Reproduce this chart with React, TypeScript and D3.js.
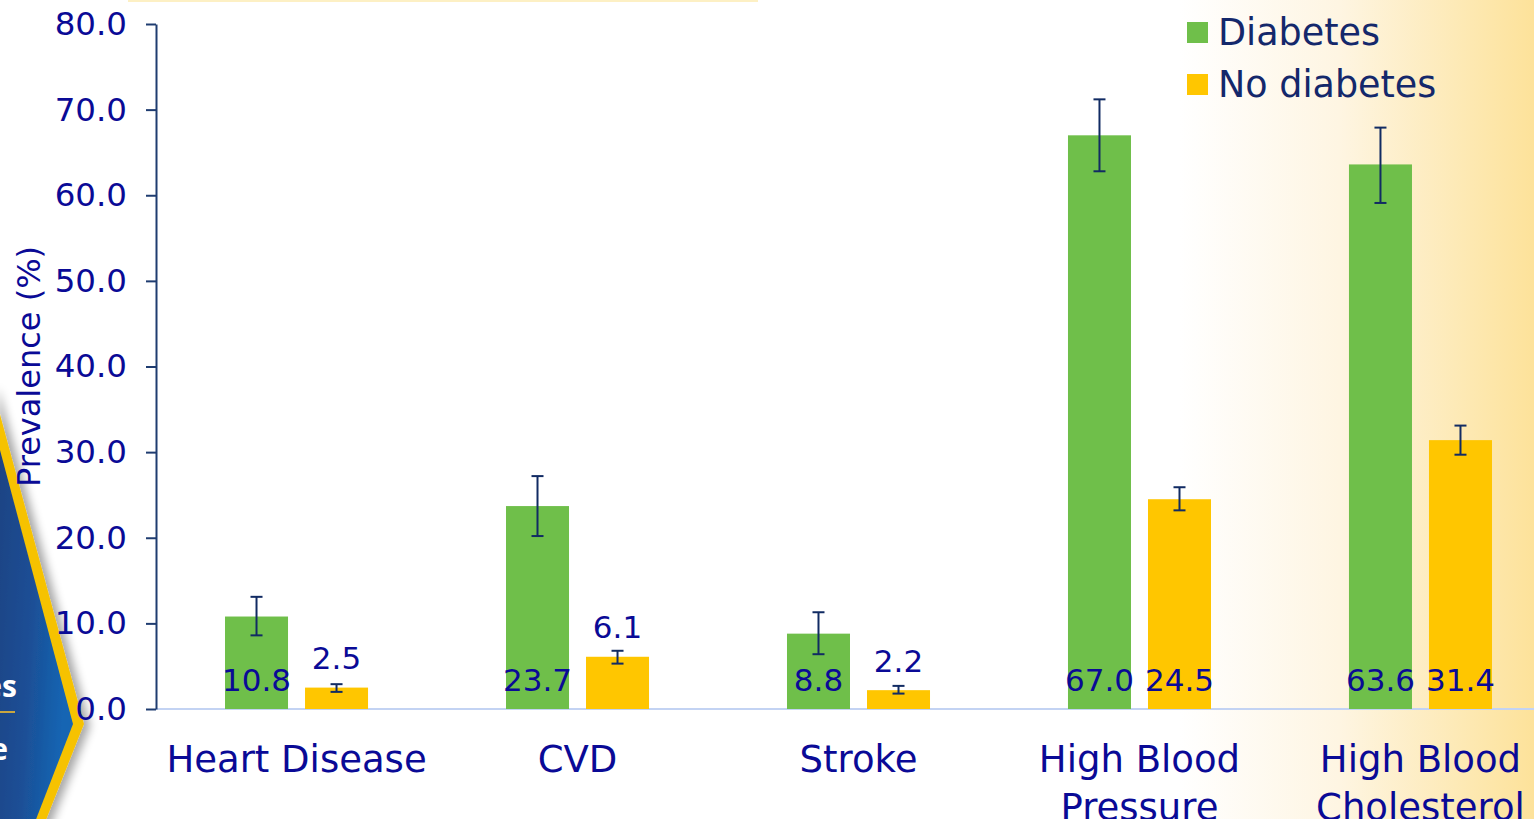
import { useEffect, useRef } from "react";
import * as d3 from "d3";

const CATEGORIES = ["Heart Disease", "CVD", "Stroke", "High Blood Pressure", "High Blood Cholesterol"];
const CATEGORY_LINES = [["Heart Disease"], ["CVD"], ["Stroke"], ["High Blood", "Pressure"], ["High Blood", "Cholesterol"]];
const SERIES = ["Diabetes", "No diabetes"];
const DIABETES = [10.8, 23.7, 8.8, 67.0, 63.6];
const DIABETES_LO = [8.6, 20.2, 6.4, 62.8, 59.1];
const DIABETES_HI = [13.1, 27.2, 11.3, 71.2, 67.9];
const NO_DIABETES = [2.5, 6.1, 2.2, 24.5, 31.4];
const NO_DIABETES_LO = [2.0, 5.3, 1.8, 23.2, 29.7];
const NO_DIABETES_HI = [2.9, 6.8, 2.7, 25.9, 33.1];
const Y_TICKS = [0, 10, 20, 30, 40, 50, 60, 70, 80];

const W = 1534;
const H = 819;
const PLOT = { left: 156, right: 1561, top: 24, bottom: 709 };
const COLORS: Record<string, string> = { Diabetes: "#6fbf4a", "No diabetes": "#ffc600" };
const LABEL = "#0a0a96";
const NAVY = "#112b63";
const FONT = "Verdana, 'DejaVu Sans', sans-serif";

export default function App() {
    const axisRef = useRef<SVGGElement>(null);

    const y = d3.scaleLinear().domain([0, 80]).range([PLOT.bottom, PLOT.top]);
    const x0 = d3
        .scaleBand<string>()
        .domain(CATEGORIES)
        .range([PLOT.left, PLOT.right])
        .paddingInner(0.491)
        .paddingOuter(0.2456);
    const x1 = d3.scaleBand<string>().domain(SERIES).range([0, x0.bandwidth()]).paddingInner(0.2125);

    const rows = CATEGORIES.flatMap((c, i) => [
        { cat: c, s: SERIES[0], v: DIABETES[i], lo: DIABETES_LO[i], hi: DIABETES_HI[i] },
        { cat: c, s: SERIES[1], v: NO_DIABETES[i], lo: NO_DIABETES_LO[i], hi: NO_DIABETES_HI[i] },
    ]);

    useEffect(() => {
        const g = d3.select(axisRef.current!);
        g.selectAll("*").remove();
        g.call(
            d3
                .axisLeft(y)
                .tickValues(Y_TICKS)
                .tickSize(10)
                .tickSizeOuter(0)
                .tickPadding(19)
                .tickFormat((d) => d3.format(".1f")(Number(d)))
        );
        g.selectAll(".domain").attr("stroke", "#1f3c70").attr("stroke-width", 2);
        g.selectAll(".tick line").attr("stroke", "#1f3c70").attr("stroke-width", 2);
        g.selectAll(".tick text")
            .attr("fill", LABEL)
            .style("font-size", "32.5px")
            .style("font-family", FONT);
    }, []);

    return (
        <svg width={W} height={H} style={{ position: "absolute", left: 0, top: 0 }}>
            <defs>
                <linearGradient id="bgRight" x1="0" x2="1" y1="0" y2="0">
                    <stop offset="0" stopColor="#ffffff" />
                    <stop offset="0.45" stopColor="#fef5e2" />
                    <stop offset="0.8" stopColor="#fde9b4" />
                    <stop offset="1" stopColor="#fde29a" />
                </linearGradient>
                <linearGradient id="hexBlue" x1="0" x2="1" y1="0" y2="0.3">
                    <stop offset="0" stopColor="#1e3f7e" />
                    <stop offset="0.6" stopColor="#1b4f96" />
                    <stop offset="1" stopColor="#1565b3" />
                </linearGradient>
                <filter id="shadow" x="-50%" y="-20%" width="200%" height="140%">
                    <feGaussianBlur in="SourceAlpha" stdDeviation="5" />
                    <feOffset dx="6" dy="2" result="b" />
                    <feComponentTransfer>
                        <feFuncA type="linear" slope="0.35" />
                    </feComponentTransfer>
                    <feMerge>
                        <feMergeNode />
                        <feMergeNode in="SourceGraphic" />
                    </feMerge>
                </filter>
            </defs>
            <rect x={0} y={0} width={W} height={H} fill="#ffffff" />
            <rect x={1180} y={0} width={W - 1180} height={H} fill="url(#bgRight)" />
            <rect x={128} y={0} width={630} height={2} fill="#fdf0c4" />

            {/* corner of the slide's badge */}
            <g filter="url(#shadow)">
                <polygon points="-8,385 84,724 38,840 -12,840" fill="#f6c200" />
                <polygon points="-8,420 73,724 28,840 -12,840" fill="url(#hexBlue)" />
            </g>
            <text x={17} y={697} textAnchor="end" fill="#ffffff" fontWeight="bold" fontSize={30} fontFamily="'Open Sans', sans-serif">
                es
            </text>
            <rect x={0} y={711} width={15} height={2} fill="#c9a640" />
            <text x={8} y={760} textAnchor="end" fill="#ffffff" fontWeight="bold" fontSize={30} fontFamily="'Open Sans', sans-serif">
                e
            </text>

            {/* baseline */}
            <line x1={PLOT.left} x2={W} y1={PLOT.bottom} y2={PLOT.bottom} stroke="#c3d3f3" strokeWidth={2} />

            {rows.map((r, i) => {
                const bx = x0(r.cat)! + x1(r.s)!;
                const bw = x1.bandwidth();
                const top = y(r.v);
                const cx = bx + bw / 2;
                return (
                    <g key={i}>
                        <rect x={bx} y={top} width={bw} height={PLOT.bottom - top} fill={COLORS[r.s]} />
                        <line x1={cx} x2={cx} y1={y(r.hi)} y2={y(r.lo)} stroke={NAVY} strokeWidth={2} />
                        <line x1={cx - 6} x2={cx + 6} y1={y(r.hi)} y2={y(r.hi)} stroke={NAVY} strokeWidth={2} />
                        <line x1={cx - 6} x2={cx + 6} y1={y(r.lo)} y2={y(r.lo)} stroke={NAVY} strokeWidth={2} />
                    </g>
                );
            })}

            {rows.map((r, i) => {
                const bx = x0(r.cat)! + x1(r.s)!;
                const cx = bx + x1.bandwidth() / 2;
                const top = y(r.v);
                const inside = PLOT.bottom - top >= 60;
                return (
                    <text
                        key={i}
                        x={cx}
                        y={inside ? PLOT.bottom - 18 : top - 18.5}
                        textAnchor="middle"
                        fill={LABEL}
                        fontSize={31}
                        fontFamily={FONT}
                    >
                        {r.v.toFixed(1)}
                    </text>
                );
            })}

            <g ref={axisRef} transform={`translate(${PLOT.left},0)`} />

            <text
                transform={`translate(40,${(PLOT.top + PLOT.bottom) / 2}) rotate(-90)`}
                textAnchor="middle"
                fill={LABEL}
                fontSize={32}
                fontFamily={FONT}
            >
                Prevalence (%)
            </text>

            {CATEGORY_LINES.map((lines, i) => (
                <text
                    key={i}
                    x={x0(CATEGORIES[i])! + x0.bandwidth() / 2}
                    y={772}
                    textAnchor="middle"
                    fill={LABEL}
                    fontSize={37}
                    fontFamily={FONT}
                >
                    {lines.map((l, j) => (
                        <tspan key={j} x={x0(CATEGORIES[i])! + x0.bandwidth() / 2} dy={j === 0 ? 0 : 48}>
                            {l}
                        </tspan>
                    ))}
                </text>
            ))}

            {SERIES.map((s, i) => (
                <g key={s} transform={`translate(1187,${22 + i * 52})`}>
                    <rect width={21} height={21} fill={COLORS[s]} />
                    <text x={31} y={23} fill="#14286b" fontSize={36.5} fontFamily={FONT}>
                        {s}
                    </text>
                </g>
            ))}
        </svg>
    );
}
